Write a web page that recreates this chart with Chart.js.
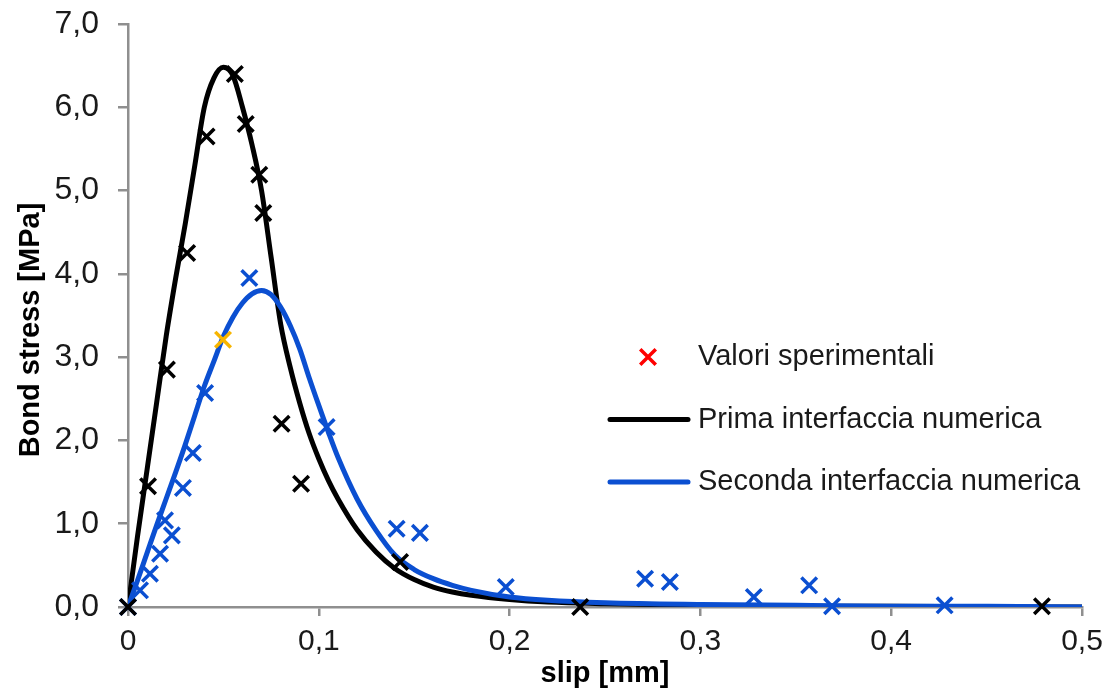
<!DOCTYPE html>
<html><head><meta charset="utf-8">
<script src="https://cdn.jsdelivr.net/npm/chart.js@4.4.1/dist/chart.umd.min.js"></script>
<style>html,body{margin:0;padding:0;background:#fff;overflow:hidden}</style>
</head><body>
<canvas id="c" width="1110" height="695"></canvas>
<script>
// ---- data ----
const seriesNames = ['Valori sperimentali', 'Prima interfaccia numerica', 'Seconda interfaccia numerica'];
const axisTitles = ['slip [mm]', 'Bond stress [MPa]'];
const xTicks = [0, 0.1, 0.2, 0.3, 0.4, 0.5];
const yTicks = [0, 1, 2, 3, 4, 5, 6, 7];

const curveSlip = [0, 0.005, 0.01, 0.015, 0.02, 0.025, 0.03, 0.035, 0.04, 0.045, 0.05, 0.055, 0.06, 0.065, 0.07, 0.075, 0.08, 0.085, 0.09, 0.095, 0.10, 0.105, 0.11, 0.12, 0.13, 0.14, 0.15, 0.16, 0.17, 0.18, 0.20, 0.22, 0.25, 0.30, 0.35, 0.40, 0.45, 0.50];
const curvePrima = [0, 0.85, 1.65, 2.45, 3.25, 3.95, 4.6, 5.3, 6.0, 6.35, 6.48, 6.38, 6.0, 5.55, 5.0, 4.2, 3.4, 2.88, 2.45, 2.08, 1.78, 1.52, 1.3, 0.93, 0.66, 0.46, 0.33, 0.24, 0.18, 0.14, 0.09, 0.06, 0.04, 0.02, 0.01, 0.01, 0.0, 0.0];
const curveSeconda = [0, 0.32, 0.65, 0.98, 1.3, 1.62, 1.95, 2.3, 2.65, 2.95, 3.25, 3.48, 3.65, 3.76, 3.8, 3.75, 3.6, 3.38, 3.1, 2.75, 2.42, 2.1, 1.8, 1.3, 0.92, 0.62, 0.45, 0.34, 0.26, 0.2, 0.12, 0.08, 0.05, 0.03, 0.02, 0.01, 0.01, 0.0];

const expPrimaSlip   = [0, 0.0105, 0.0204, 0.031, 0.0412, 0.056, 0.0617, 0.0688, 0.0709, 0.0805, 0.0907, 0.1426, 0.237, 0.479];
const expPrimaStress = [0, 1.45, 2.85, 4.25, 5.65, 6.40, 5.80, 5.19, 4.73, 2.20, 1.48, 0.54, 0.0, 0.01];

const expSecondaSlip   = [0, 0.0063, 0.0115, 0.0168, 0.023, 0.0194, 0.0288, 0.034, 0.0404, 0.0636, 0.1041, 0.1408, 0.153, 0.198, 0.271, 0.284, 0.328, 0.357, 0.369, 0.428];
const expSecondaStress = [0, 0.20, 0.40, 0.64, 0.86, 1.04, 1.43, 1.85, 2.57, 3.95, 2.16, 0.94, 0.89, 0.24, 0.34, 0.30, 0.12, 0.26, 0.01, 0.02];

const expExtraSlip   = [0.0498];
const expExtraStress = [3.21];

// ---- helpers ----
const pts = (xs, ys) => xs.map((x, i) => ({x: x, y: ys[i]}));
const fmt = v => (v === 0 ? '0' : v.toFixed(1).replace('.', ','));
const fmtY = v => v.toFixed(1).replace('.', ',');

const BLUE = '#0B4FD1';
const GRAY = '#8f8f8f';
const FONT = "'Liberation Sans', Arial, sans-serif";
const MARK_R = 11;

const markerCommon = {type: 'scatter', showLine: false, pointStyle: 'crossRot', pointRadius: MARK_R, pointHoverRadius: MARK_R, pointBorderWidth: 3.5, borderWidth: 3.5, clip: false, order: 0};

const legendPlugin = {
  id: 'insideLegend',
  afterDraw(chart, args, o) {
    const ctx = chart.ctx;
    ctx.save();
    ctx.font = o.font;
    ctx.textBaseline = 'middle';
    ctx.textAlign = 'left';
    o.items.forEach((it, i) => {
      const y = o.y0 + i * o.dy;
      if (it.kind === 'marker') {
        const r = MARK_R * Math.SQRT1_2;
        ctx.strokeStyle = it.color; ctx.lineWidth = 3.5; ctx.lineCap = 'butt';
        ctx.beginPath();
        ctx.moveTo(o.markX - r, y - r); ctx.lineTo(o.markX + r, y + r);
        ctx.moveTo(o.markX - r, y + r); ctx.lineTo(o.markX + r, y - r);
        ctx.stroke();
      } else {
        ctx.strokeStyle = it.color; ctx.lineWidth = 5; ctx.lineCap = 'round';
        ctx.beginPath(); ctx.moveTo(o.lineX0, y); ctx.lineTo(o.lineX1, y); ctx.stroke();
      }
      ctx.fillStyle = o.color;
      ctx.fillText(it.text, o.textX, y);
    });
    ctx.restore();
  }
};

const yTitlePlugin = {
  id: 'yTitle',
  afterDraw(chart, args, o) {
    const ctx = chart.ctx;
    ctx.save();
    ctx.font = o.font;
    ctx.fillStyle = o.color;
    ctx.textAlign = 'center';
    ctx.textBaseline = 'alphabetic';
    ctx.translate(o.x, o.y);
    ctx.rotate(-Math.PI / 2);
    ctx.fillText(o.text, 0, 0);
    ctx.restore();
  }
};

new Chart(document.getElementById('c'), {
  type: 'scatter',
  data: {
    datasets: [
      Object.assign({label: seriesNames[0], data: pts(expPrimaSlip, expPrimaStress), borderColor: '#000', backgroundColor: '#000'}, markerCommon),
      Object.assign({label: seriesNames[0], data: pts(expSecondaSlip, expSecondaStress), borderColor: BLUE, backgroundColor: BLUE}, markerCommon),
      Object.assign({label: seriesNames[0], data: pts(expExtraSlip, expExtraStress), borderColor: '#F7B500', backgroundColor: '#F7B500'}, markerCommon),
      {type: 'scatter', label: seriesNames[1], data: pts(curveSlip, curvePrima), showLine: true, borderColor: '#000', borderWidth: 5, pointRadius: 0, pointHoverRadius: 0, cubicInterpolationMode: 'monotone', fill: false, order: 2},
      {type: 'scatter', label: seriesNames[2], data: pts(curveSlip, curveSeconda), showLine: true, borderColor: BLUE, borderWidth: 5, pointRadius: 0, pointHoverRadius: 0, cubicInterpolationMode: 'monotone', fill: false, order: 1}
    ]
  },
  options: {
    responsive: false,
    animation: false,
    devicePixelRatio: 1,
    layout: {padding: {left: 0, right: 28, top: 24, bottom: 0}},
    plugins: {
      legend: {display: false},
      tooltip: {enabled: false},
      insideLegend: {
        font: "29px " + FONT, color: '#1a1a1a',
        y0: 357, dy: 62.5, markX: 648, lineX0: 610, lineX1: 688, textX: 698,
        items: [
          {kind: 'marker', color: '#FF0000', text: seriesNames[0]},
          {kind: 'line', color: '#000', text: seriesNames[1]},
          {kind: 'line', color: BLUE, text: seriesNames[2]}
        ]
      },
      yTitle: {text: axisTitles[1], font: "bold 29px " + FONT, color: '#000', x: 39, y: 330}
    },
    scales: {
      x: {
        type: 'linear', min: 0, max: 0.5,
        afterBuildTicks: s => { s.ticks = xTicks.map(v => ({value: v})); },
        afterFit: s => { s.height = 88; s.paddingLeft = 0; s.paddingRight = 0; },
        grid: {display: true, drawOnChartArea: false, drawTicks: true, tickLength: 9, color: GRAY, lineWidth: 2.5},
        border: {display: true, color: GRAY, width: 2.5},
        ticks: {font: {family: FONT, size: 30}, color: '#1a1a1a', padding: 8, maxRotation: 0, callback: v => fmt(v)},
        title: {display: true, text: axisTitles[0], font: {family: FONT, size: 29, weight: 'bold'}, color: '#000', padding: {top: 0, bottom: 4}}
      },
      y: {
        type: 'linear', min: 0, max: 7,
        afterBuildTicks: s => { s.ticks = yTicks.map(v => ({value: v})); },
        afterFit: s => { s.width = 128; s.paddingTop = 0; s.paddingBottom = 0; },
        grid: {display: true, drawOnChartArea: false, drawTicks: true, tickLength: 10, color: GRAY, lineWidth: 2.5},
        border: {display: true, color: GRAY, width: 2.5},
        ticks: {font: {family: FONT, size: 32}, color: '#1a1a1a', padding: 19, callback: v => fmtY(v)}
      }
    }
  },
  plugins: [legendPlugin, yTitlePlugin]
});
</script>
</body></html>
